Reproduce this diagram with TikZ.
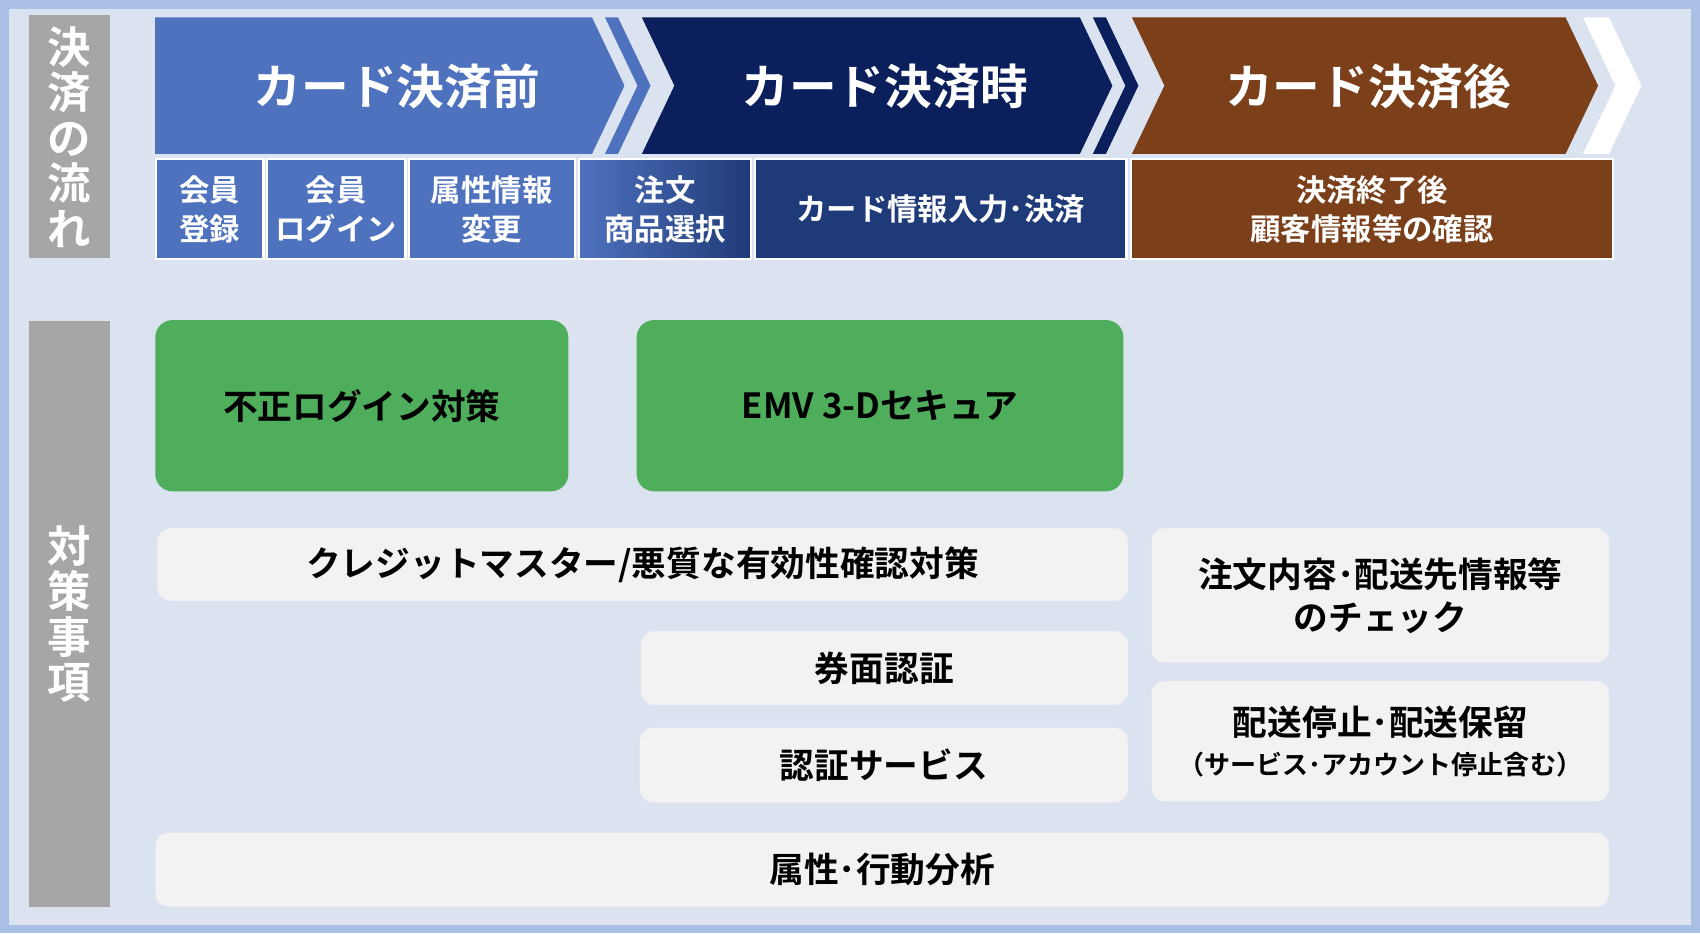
\documentclass[tikz,border=0pt]{standalone}
\usepackage{fontspec}
\setmainfont{Noto Sans CJK JP Bold}
\definecolor{bg}{HTML}{DCE3F0}
\definecolor{frame}{HTML}{A9C0E4}
\definecolor{cblue}{HTML}{4F72BE}
\definecolor{cnavy}{HTML}{0B1F5C}
\definecolor{cnavy2}{HTML}{1F3A78}
\definecolor{cbrown}{HTML}{7B3F1A}
\definecolor{cgreen}{HTML}{4FAE5C}
\definecolor{cgray}{HTML}{A6A6A6}
\definecolor{lgray}{HTML}{F2F2F2}
\begin{document}
\begin{tikzpicture}[x=1pt,y=-1pt,
  cell/.style={draw=white,line width=2pt,text=white,font=\fontsize{28}{36}\selectfont,align=center,anchor=north west,inner sep=0pt},
  gbox/.style={fill=cgreen,rounded corners=16pt,font=\fontsize{32}{38}\selectfont,anchor=north west,inner sep=0pt},
  lbox/.style={fill=lgray,rounded corners=12pt,font=\fontsize{32}{40}\selectfont,align=center,anchor=north west,inner sep=0pt},
  vlab/.style={fill=cgray,text=white,font=\fontsize{40}{42}\selectfont,align=center,anchor=north west,inner sep=0pt},
  ttl/.style={text=white,font=\fontsize{44}{50}\selectfont}]
\useasboundingbox (0,0) rectangle (1568,861);
\fill[frame] (0,0) rectangle (1568,861);
\fill[bg] (8,8) rectangle (1560,853);
% left labels
\node[vlab,minimum width=74pt,minimum height=224pt] (l1) at (27,14) {決\\済\\の\\流\\れ};
\node[vlab,minimum width=74pt,minimum height=540pt] (l2) at (27,296) {対\\策\\事\\項};
% chevrons
\fill[cblue] (143,16) -- (546,16) -- (576,79) -- (546,142) -- (143,142) -- cycle;
\fill[cblue] (558,16) -- (570,16) -- (600,79) -- (570,142) -- (558,142) -- (588,79) -- cycle;
\fill[cnavy] (592,16) -- (996,16) -- (1026,79) -- (996,142) -- (592,142) -- (622,79) -- cycle;
\fill[cnavy] (1008,16) -- (1020,16) -- (1050,79) -- (1020,142) -- (1008,142) -- (1038,79) -- cycle;
\fill[cbrown] (1044,16) -- (1444,16) -- (1474,79) -- (1444,142) -- (1044,142) -- (1074,79) -- cycle;
\fill[white] (1460,16) -- (1484,16) -- (1514,79) -- (1484,142) -- (1460,142) -- (1490,79) -- cycle;
\node[ttl] (t1) at (366,80) {カード決済前};
\node[ttl] (t2) at (816,80) {カード決済時};
\node[ttl] (t3) at (1262,80) {カード決済後};
% cells
\node[cell,fill=cblue,minimum width=99pt,minimum height=92pt] (c1) at (143,146) {会員\\登録};
\node[cell,fill=cblue,minimum width=128pt,minimum height=92pt] (c2) at (245,146) {会員\\ログイン};
\node[cell,fill=cblue,minimum width=153pt,minimum height=92pt] (c3) at (376,146) {属性情報\\変更};
\node[cell,left color=cblue,right color=cnavy2,minimum width=159pt,minimum height=92pt] (c4) at (533,146) {注文\\商品選択};
\node[cell,fill=cnavy2,minimum width=343pt,minimum height=92pt] (c5) at (695,146) {カード情報入力･決済};
\node[cell,fill=cbrown,minimum width=445pt,minimum height=92pt] (c6) at (1042,146) {決済終了後\\顧客情報等の確認};
% green boxes
\node[gbox,minimum width=381pt,minimum height=158pt] (g1) at (143,295) {不正ログイン対策};
\node[gbox,minimum width=449pt,minimum height=158pt] (g2) at (587,295) {EMV 3-Dセキュア};
% light boxes
\node[lbox,minimum width=895pt,minimum height=67pt] (b1) at (145,487) {クレジットマスター/悪質な有効性確認対策};
\node[lbox,minimum width=449pt,minimum height=68pt] (b2) at (591,582) {券面認証};
\node[lbox,minimum width=450pt,minimum height=69pt] (b3) at (590,671) {認証サービス};
\node[lbox,minimum width=422pt,minimum height=124pt] (b4) at (1062,487) {注文内容･配送先情報等\\のチェック};
\node[lbox,minimum width=422pt,minimum height=111pt] (b5) at (1062,628) {配送停止･配送保留\\[-4pt]{\fontsize{24}{28}\selectfont（サービス･アカウント停止含む）}};
\node[lbox,minimum width=1341pt,minimum height=68pt] (b6) at (143,768) {属性･行動分析};
\end{tikzpicture}
\end{document}
